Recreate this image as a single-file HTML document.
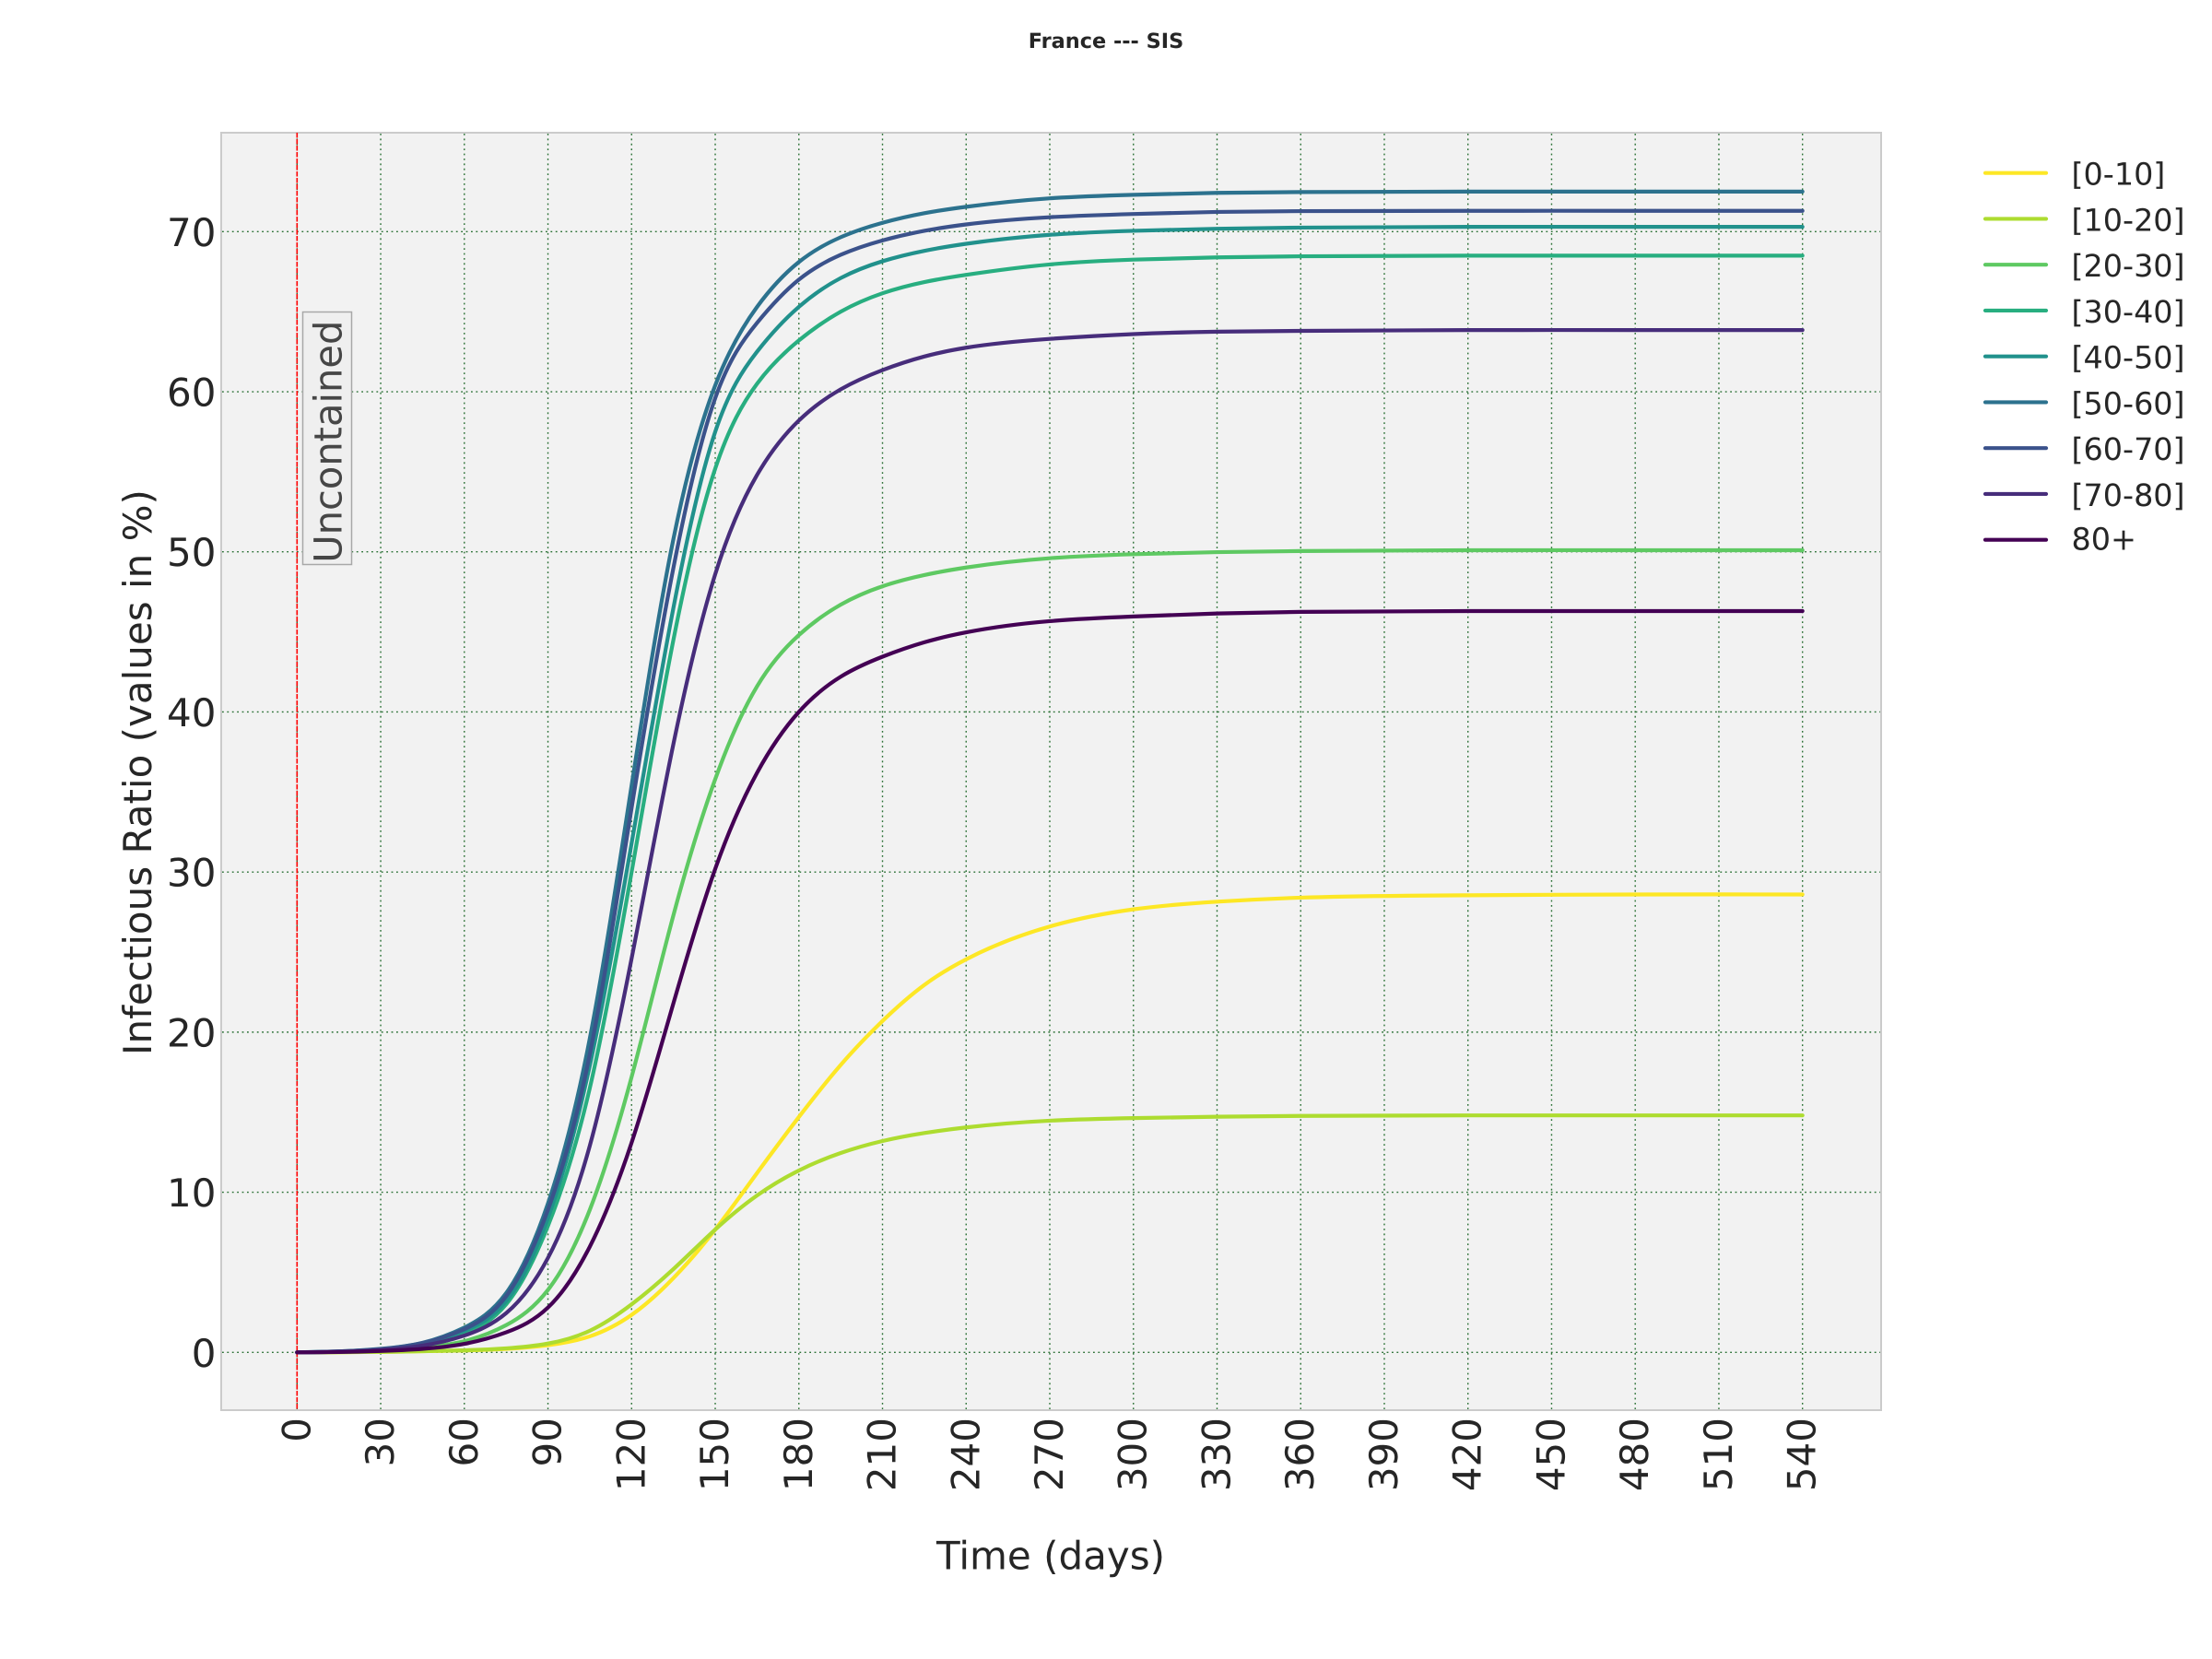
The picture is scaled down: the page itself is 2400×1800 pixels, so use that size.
<!DOCTYPE html>
<html lang="en">
<head>
<meta charset="utf-8">
<title>France --- SIS</title>
<style>
  html, body { margin: 0; padding: 0; background: #ffffff; }
  svg { display: block; }
  text { font-family: "DejaVu Sans", "Liberation Sans", sans-serif; fill: #262626; text-rendering: geometricPrecision; }
</style>
</head>
<body>
<svg id="chart" xmlns="http://www.w3.org/2000/svg" width="2400" height="1800" viewBox="0 0 2400 1800">
  <rect x="0" y="0" width="2400" height="1800" fill="#ffffff"/>
  <text x="1200" y="52" text-anchor="middle" font-size="22.4" font-weight="bold">France --- SIS</text>
  <rect x="240" y="144" width="1801" height="1386" fill="#f2f2f2" stroke="#cbcbcb" stroke-width="2"/>
  <g id="grid"></g>
  <g id="yticks"></g>
  <g id="xticks"></g>
  <line id="marker" y1="144" y2="1530" stroke="#ff0000" stroke-width="1.6" stroke-dasharray="5.5 1.5"/>
  <rect x="328.5" y="338.5" width="53" height="274" fill="#efefef" stroke="#a8a8a8" stroke-width="1.5"/>
  <text transform="translate(370.7 610.8) rotate(-90)" font-size="41.6" style="fill:#464646">Uncontained</text>
  <g id="series"></g>
  <text x="1140" y="1702.5" text-anchor="middle" font-size="42">Time (days)</text>
  <text transform="translate(164 838) rotate(-90)" text-anchor="middle" font-size="42">Infectious Ratio (values in %)</text>
  <g id="legend"></g>
</svg>
<script>
const times = [0,15,30,45,60,75,90,105,120,135,150,165,180,195,210,225,240,270,300,330,360,420,480,540];
const age0to10 = [0,.01,.03,.07,.12,.22,.45,1,2.34,4.64,7.67,11.2,14.7,17.95,20.7,22.95,24.55,26.6,27.67,28.15,28.4,28.55,28.6,28.6];
const age10to20 = [0,.01,.03,.07,.13,.25,.55,1.35,3,5.2,7.67,9.8,11.36,12.45,13.2,13.7,14.05,14.47,14.63,14.72,14.77,14.8,14.8,14.8];
const age20to30 = [0,.03,.12,.3,.7,1.7,3.9,8.9,17.2,27.3,35.8,41.6,44.8,46.7,47.85,48.55,49.02,49.6,49.85,49.98,50.05,50.1,50.1,50.1];
const age30to40 = [0,.05,.18,.5,1.2,3,7.9,16.5,30,44.5,55.2,60.5,63.2,65,66.15,66.85,67.3,67.95,68.25,68.39,68.46,68.5,68.5,68.5];
const age40to50 = [0,.05,.2,.55,1.35,3.2,8.4,17.9,31.8,46.5,57.5,62.5,65.3,67.1,68.15,68.8,69.24,69.8,70.05,70.18,70.25,70.3,70.3,70.3];
const age50to60 = [0,.06,.22,.6,1.55,3.7,9.3,19.6,35.4,50.8,60.4,65.3,68.1,69.65,70.55,71.15,71.55,72.08,72.3,72.42,72.47,72.5,72.5,72.5];
const age60to70 = [0,.06,.2,.58,1.45,3.5,8.9,18.6,34,49,59.6,64.3,67,68.55,69.45,70.05,70.45,70.9,71.1,71.23,71.28,71.3,71.3,71.3];
const age70to80 = [0,.04,.15,.42,1.05,2.45,5.9,12.9,24.6,38,48.6,54.8,58.2,60.15,61.35,62.2,62.75,63.3,63.6,63.75,63.8,63.85,63.85,63.85];
const age80plus = [0,.02,.09,.22,.53,1.25,2.8,6.6,13.1,21.8,30.2,36.2,40,42.2,43.45,44.35,44.97,45.67,45.96,46.15,46.25,46.3,46.3,46.3];
const seriesNames = ['[0-10]','[10-20]','[20-30]','[30-40]','[40-50]','[50-60]','[60-70]','[70-80]','80+'];
const seriesSlugs = ['0-10','10-20','20-30','30-40','40-50','50-60','60-70','70-80','80-plus'];
const seriesValues = [age0to10,age10to20,age20to30,age30to40,age40to50,age50to60,age60to70,age70to80,age80plus];
const seriesColors = ['#fde725','#addc30','#5ec962','#28ae80','#21918c','#2c728e','#3b528b','#472d7b','#440154'];
const xTickValues = [0,30,60,90,120,150,180,210,240,270,300,330,360,390,420,450,480,510,540];
const yTickValues = [0,10,20,30,40,50,60,70];

const SVG_NS = 'http://www.w3.org/2000/svg';
const xScale = function (t) { return 322.3 + t * (1955.7 - 322.3) / 540; };
const yScale = function (v) { return 1467.3 - v * (1467.3 - 251.3) / 70; };

function make(tag, attrs, parent) {
  const el = document.createElementNS(SVG_NS, tag);
  Object.keys(attrs).forEach(function (k) { el.setAttribute(k, attrs[k]); });
  parent.appendChild(el);
  return el;
}

/* natural cubic spline through the samples, emitted as bezier segments */
function splinePath(xs, ys) {
  const n = xs.length;
  const h = [];
  for (let i = 0; i < n - 1; i++) { h.push(xs[i + 1] - xs[i]); }
  const a = new Array(n).fill(0);
  const b = new Array(n).fill(1);
  const c = new Array(n).fill(0);
  const r = new Array(n).fill(0);
  for (let i = 1; i < n - 1; i++) {
    a[i] = h[i - 1];
    b[i] = 2 * (h[i - 1] + h[i]);
    c[i] = h[i];
    r[i] = 6 * ((ys[i + 1] - ys[i]) / h[i] - (ys[i] - ys[i - 1]) / h[i - 1]);
  }
  for (let i = 1; i < n; i++) {
    const f = a[i] / b[i - 1];
    b[i] -= f * c[i - 1];
    r[i] -= f * r[i - 1];
  }
  const m = new Array(n).fill(0);
  m[n - 1] = r[n - 1] / b[n - 1];
  for (let i = n - 2; i >= 0; i--) { m[i] = (r[i] - c[i] * m[i + 1]) / b[i]; }
  let path = 'M' + xs[0].toFixed(2) + ' ' + ys[0].toFixed(2);
  for (let i = 0; i < n - 1; i++) {
    const s = (ys[i + 1] - ys[i]) / h[i];
    const d0 = s - h[i] * (2 * m[i] + m[i + 1]) / 6;
    const d1 = s + h[i] * (m[i] + 2 * m[i + 1]) / 6;
    const t = h[i] / 3;
    path += 'C' + (xs[i] + t).toFixed(2) + ' ' + (ys[i] + d0 * t).toFixed(2) + ' ' +
      (xs[i + 1] - t).toFixed(2) + ' ' + (ys[i + 1] - d1 * t).toFixed(2) + ' ' +
      xs[i + 1].toFixed(2) + ' ' + ys[i + 1].toFixed(2);
  }
  return path;
}

const gridGroup = document.getElementById('grid');
const yTickGroup = document.getElementById('yticks');
const xTickGroup = document.getElementById('xticks');
const seriesGroup = document.getElementById('series');
const legendGroup = document.getElementById('legend');
document.getElementById('marker').setAttribute('x1', xScale(0));
document.getElementById('marker').setAttribute('x2', xScale(0));

yTickValues.forEach(function (v) {
  const line = make('line', { x1: 241, x2: 2040, y1: yScale(v), y2: yScale(v), stroke: '#2a7034', 'stroke-width': 1.4, 'stroke-dasharray': '1.8 3.6' }, gridGroup);
  
  
  const label = make('text', { x: 234.5, y: yScale(v) + 15.5, 'text-anchor': 'end', 'font-size': 42 }, yTickGroup);
  
  
  label.textContent = String(v);
});

xTickValues.forEach(function (t) {
  const line = make('line', { x1: xScale(t), x2: xScale(t), y1: 145, y2: 1529, stroke: '#2a7034', 'stroke-width': 1.4, 'stroke-dasharray': '1.8 3.6' }, gridGroup);
  
  
  const label = make('text', { transform: 'translate(' + (xScale(t) + 14) + ' 1538) rotate(-90)', 'text-anchor': 'end', 'font-size': 42 }, xTickGroup);
  
  
  label.textContent = String(t);
});

seriesValues.forEach(function (values, i) {
  const xs = times.map(xScale);
  const ys = values.map(yScale);
  const path = make('path', { d: splinePath(xs, ys), fill: 'none', stroke: seriesColors[i], 'stroke-width': 4.2, 'stroke-linecap': 'round', 'stroke-linejoin': 'round' }, seriesGroup);
  
  

  const rowY = 187.7 + i * 49.75;
  const swatch = make('line', { x1: 2154, x2: 2220, y1: rowY, y2: rowY, stroke: seriesColors[i], 'stroke-width': 4.2, 'stroke-linecap': 'round' }, legendGroup);
  
  
  const baselineOffset = seriesNames[i].charAt(0) === '[' ? 13 : 11;
  const text = make('text', { x: 2247.5, y: rowY + baselineOffset, 'font-size': 33.4 }, legendGroup);
  
  
  text.textContent = seriesNames[i];
});
</script>
</body>
</html>
